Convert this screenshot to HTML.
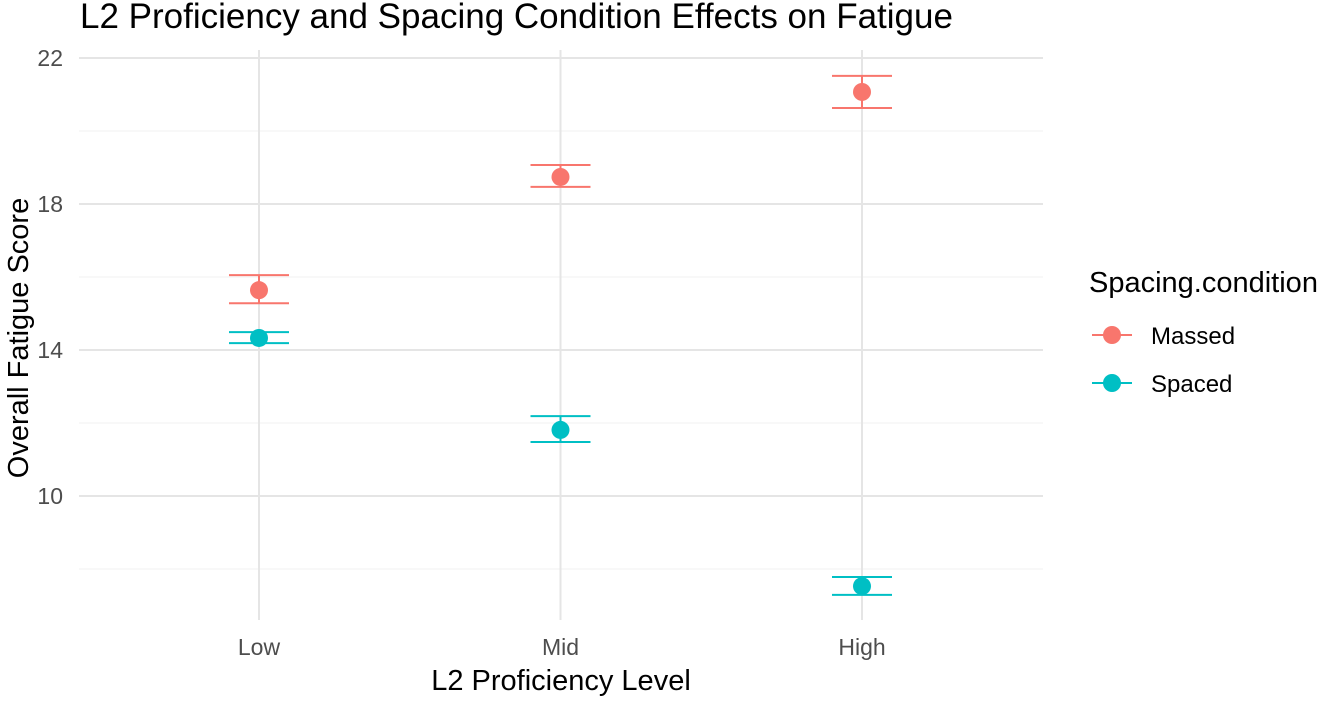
<!DOCTYPE html>
<html><head><meta charset="utf-8"><style>
body{margin:0;background:#fff;font-family:"Liberation Sans",sans-serif}
svg text{font-family:"Liberation Sans",sans-serif}
</style></head><body>
<svg width="1328" height="699">
<g id="grid"></g><g id="marks"></g>
<text x="80" y="28" font-size="35" fill="#000">L2 Proficiency and Spacing Condition Effects on Fatigue</text>
<text x="561" y="690" font-size="29" text-anchor="middle">L2 Proficiency Level</text>
<text transform="translate(28,338) rotate(-90)" font-size="29" text-anchor="middle">Overall Fatigue Score</text>
<g>
<text x="1089" y="292" font-size="29">Spacing.condition</text>
<g><line x1="1092" x2="1132" y1="335" y2="335" stroke="#F8766D" stroke-width="2"/><circle cx="1112" cy="335" r="9" fill="#F8766D"/><text x="1151" y="344" font-size="24">Massed</text></g>
<g><line x1="1092" x2="1132" y1="383" y2="383" stroke="#00BFC4" stroke-width="2"/><circle cx="1112" cy="383" r="9" fill="#00BFC4"/><text x="1151" y="392" font-size="24">Spaced</text></g>
</g>
</svg>
<script>
const categories=["Low","Mid","High"];
const massedMean=[15.64,18.74,21.07];
const massedLo=[15.28,18.47,20.63];
const massedHi=[16.05,19.07,21.51];
const spacedMean=[14.33,11.81,7.53];
const spacedLo=[14.19,11.48,7.29];
const spacedHi=[14.49,12.19,7.78];
const yTicks=[10,14,18,22];
const yMinor=[8,12,16,20];
const NS="http://www.w3.org/2000/svg";
const y=v=>496-(v-10)*36.5;
const x=i=>259+i*301.5;
const X0=79,X1=1043,Y0=50,Y1=620;
const grid=document.getElementById('grid'),marks=document.getElementById('marks');
function mk(tag,attrs,parent){const e=document.createElementNS(NS,tag);for(const k in attrs)e.setAttribute(k,attrs[k]);parent.appendChild(e);return e;}
yMinor.forEach(v=>{const l=mk('line',{x1:X0,x2:X1,y1:y(v),y2:y(v),stroke:'#f0f0f0','stroke-width':1},grid);

});
yTicks.forEach(v=>{const l=mk('line',{x1:X0,x2:X1,y1:y(v),y2:y(v),stroke:'#e5e5e5','stroke-width':2},grid);


const t=mk('text',{x:63,y:y(v)+8,'font-size':23,fill:'#4d4d4d','text-anchor':'end'},grid);t.textContent=v;

});
categories.forEach((c,i)=>{const l=mk('line',{x1:x(i),x2:x(i),y1:Y0,y2:Y1,stroke:'#e5e5e5','stroke-width':2},grid);


const t=mk('text',{x:x(i),y:655,'font-size':23,fill:'#4d4d4d','text-anchor':'middle'},grid);t.textContent=c;

});
function series(mean,lo,hi,col,name){categories.forEach((c,i)=>{const g=mk('g',{},marks);


const cx=x(i);
mk('line',{x1:cx,x2:cx,y1:y(hi[i]),y2:y(lo[i]),stroke:col,'stroke-width':2},g);
mk('line',{x1:cx-30,x2:cx+30,y1:y(hi[i]),y2:y(hi[i]),stroke:col,'stroke-width':2},g);
mk('line',{x1:cx-30,x2:cx+30,y1:y(lo[i]),y2:y(lo[i]),stroke:col,'stroke-width':2},g);
mk('circle',{cx:cx,cy:y(mean[i]),r:9,fill:col},g);});}
series(massedMean,massedLo,massedHi,'#F8766D','massed');
series(spacedMean,spacedLo,spacedHi,'#00BFC4','spaced');
</script>
</body></html>
